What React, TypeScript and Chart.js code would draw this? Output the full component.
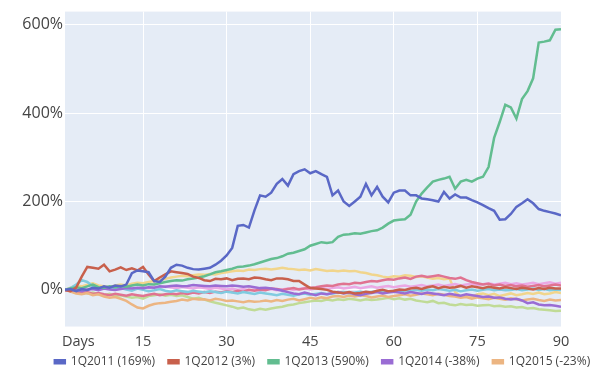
import React, { useEffect, useRef } from "react";
import { Chart, registerables } from "chart.js";

Chart.register(...registerables);

// Days 1..90
const DAYS: number[] = Array.from({ length: 90 }, (_, i) => i + 1);

const X_TICKS = [3.4, 15, 30, 45, 60, 75, 90];
const DAYS_TICK = 3.4;
const Y_TICKS = [0, 200, 400, 600];

const NAMES = [
  "1Q2011 (169%)",
  "1Q2012 (3%)",
  "1Q2013 (590%)",
  "1Q2014 (-38%)",
  "1Q2015 (-23%)",
  "1Q2016",
  "1Q2017",
  "1Q2018",
  "1Q2019",
  "1Q2020",
];

const COLORS = [
  "#5a68c6",
  "#c8604c",
  "#62bd90",
  "#9a6cd4",
  "#ecb582",
  "#80cbe0",
  "#e07391",
  "#c0db96",
  "#eba8e4",
  "#f1d58c",
];

const Q2011 = [
  0, 2, -3, 2, 0, 5, 3, 8, 5, 10,
  8, 12, 38, 44, 42, 40, 20, 18, 30, 50,
  57, 55, 50, 47, 46, 48, 50, 57, 66, 78,
  95, 145, 147, 141, 180, 214, 211, 220, 240, 251,
  236, 262, 269, 273, 264, 269, 262, 256, 214, 225,
  200, 190, 200, 211, 240, 214, 233, 211, 198, 220,
  225, 225, 214, 214, 207, 205, 203, 200, 222, 207,
  216, 209, 209, 203, 198, 192, 185, 179, 159, 160,
  172, 188, 196, 205, 196, 183, 179, 176, 173, 169,
];

const Q2012 = [
  0, -3, 5, 30, 52, 50, 48, 57, 42, 46,
  51, 45, 49, 44, 52, 35, 20, 28, 35, 42,
  40, 38, 36, 30, 27, 22, 20, 25, 24, 26,
  22, 25, 26, 24, 28, 27, 24, 22, 26, 26,
  24, 20, 20, 12, 4, 3, 2, 0, -4, -6,
  -7, -5, -8, -7, -4, -6, -2, 0, -3, -2,
  1, 0, 3, 5, 2, 6, 8, 4, 7, 5,
  6, 9, 5, 8, 6, 4, 7, 5, 3, 6,
  4, 2, 5, 3, 1, 4, 2, 5, 3, 3,
];

const Q2013 = [
  0, 3, 6, 4, 8, 12, 6, 5, 8, 6,
  9, 7, 10, 12, 10, 13, 12, 15, 18, 20,
  22, 21, 24, 26, 28, 31, 35, 40, 42, 45,
  48, 52, 53, 55, 58, 62, 66, 70, 72, 76,
  82, 84, 88, 92, 100, 104, 108, 106, 108, 120,
  125, 126, 128, 127, 130, 133, 135, 141, 150, 157,
  159, 160, 170, 200, 218, 232, 245, 249, 252, 256,
  229, 245, 249, 245, 252, 256, 278, 344, 380, 419,
  413, 388, 432, 450, 479, 560, 562, 565, 589, 590,
];

const Q2014 = [
  0, -2, 1, -3, 0, 2, -1, 3, 1, 0,
  2, 4, 3, 5, 4, 6, 5, 8, 7, 9,
  10, 8, 9, 11, 10, 9, 8, 10, 9, 8,
  10, 9, 7, 8, 6, 4, 5, 3, 1, -2,
  -5, -8, -10, -6, -9, -12, -8, -10, -7, -5,
  -8, -6, -10, -12, -9, -7, -5, -8, -6, -4,
  -6, -8, -5, -7, -9, -6, -8, -10, -12, -9,
  -11, -13, -10, -12, -14, -16, -15, -18, -17, -20,
  -22, -20, -24, -30, -28, -33, -35, -34, -36, -38,
];

const Q2015 = [
  0, -4, -8, -10, -7, -12, -10, -15, -18, -16,
  -20, -25, -33, -40, -42, -36, -32, -30, -29, -27,
  -25, -22, -24, -20, -22, -21, -24, -20, -22, -25,
  -24, -26, -28, -25, -27, -26, -24, -26, -23, -25,
  -22, -20, -24, -21, -18, -20, -17, -19, -15, -14,
  -16, -13, -15, -12, -14, -17, -15, -13, -16, -14,
  -12, -10, -13, -11, -8, -10, -12, -9, -11, -14,
  -15, -18, -16, -20, -17, -19, -21, -18, -20, -22,
  -19, -21, -24, -22, -20, -23, -25, -22, -24, -23,
];

const Q2016 = [
  0, 4, 12, 22, 18, 8, 5, 3, 6, 2,
  4, 1, -2, 3, 0, -3, -1, 2, -2, -4,
  -1, -3, -5, -2, -4, -6, -3, -5, -7, -4,
  -6, -8, -5, -7, -9, -6, -8, -10, -12, -9,
  -11, -13, -10, -8, -11, -9, -7, -10, -8, -6,
  -5, -8, -6, -4, -7, -5, -3, -6, -4, -2,
  -4, -1, -3, 0, -2, 1, -1, 2, 0, -2,
  0, -3, -1, 1, -2, 0, 2, -1, 1, -1,
  0, 2, -1, 1, 3, 0, 2, -1, 1, 0,
];

const Q2017 = [
  0, -3, -6, -8, -5, -9, -7, -10, -12, -9,
  -11, -13, -10, -12, -14, -11, -9, -12, -10, -8,
  -10, -7, -9, -6, -8, -5, -7, -4, -6, -3,
  -5, -2, -4, 0, -2, 1, -1, 3, 2, 0,
  2, 4, 1, 3, 5, 6, 8, 10, 9, 12,
  14, 13, 16, 15, 18, 20, 19, 22, 24, 23,
  26, 28, 25, 30, 32, 29, 31, 33, 30, 27,
  25, 28, 22, 18, 15, 12, 14, 10, 12, 9,
  11, 8, 10, 7, 9, 11, 8, 10, 12, 10,
];

const Q2018 = [
  0, -2, -5, -3, -8, -6, -10, -12, -9, -14,
  -12, -15, -18, -16, -20, -14, -12, -10, -13, -11,
  -14, -12, -16, -20, -18, -22, -26, -29, -32, -35,
  -38, -42, -40, -44, -46, -43, -45, -42, -40, -38,
  -35, -33, -30, -28, -26, -24, -25, -22, -24, -21,
  -23, -20, -22, -24, -21, -23, -22, -20, -18, -21,
  -19, -22, -20, -24, -26, -28, -25, -30, -29, -33,
  -35, -32, -34, -33, -36, -35, -34, -37, -36, -38,
  -37, -40, -39, -42, -41, -44, -45, -46, -48, -47,
];

const Q2019 = [
  0, 2, -1, 3, 1, 4, 2, 5, 3, 6,
  4, 2, 5, 3, 6, 4, 7, 5, 8, 6,
  4, 7, 5, 3, 6, 4, 2, 5, 3, 1,
  3, 0, 2, -1, 1, -2, 0, 2, -1, 1,
  3, 0, 2, 4, 1, 3, 5, 2, 4, 6,
  3, 5, 7, 4, 6, 8, 5, 7, 9, 6,
  8, 10, 7, 9, 11, 8, 10, 12, 9, 11,
  13, 10, 12, 14, 11, 13, 15, 12, 14, 16,
  13, 15, 12, 14, 16, 13, 15, 17, 14, 16,
];

const Q2020 = [
  0, 5, 10, 8, 12, 15, 10, 8, 6, 10,
  12, 10, 14, 16, 15, 18, 20, 22, 25, 28,
  30, 32, 31, 33, 35, 34, 36, 35, 38, 40,
  42, 44, 43, 46, 45, 47, 48, 46, 48, 50,
  48, 47, 45, 46, 44, 47, 45, 43, 44, 42,
  44, 42, 43, 40, 38, 35, 33, 30, 28, 31,
  30, 33, 32, 29, 31, 28, 25, 27, 24, 26,
  -5, -15, -12, -16, -10, -8, -12, -9, -14, -11,
  -8, -12, -10, -7, -9, -6, -10, -8, -5, -7,
];

const SERIES = [Q2011, Q2012, Q2013, Q2014, Q2015, Q2016, Q2017, Q2018, Q2019, Q2020];

const FONT = "'Open Sans', 'Noto Sans', sans-serif";
const TEXT = "#444444";
const LEGEND_GAP = "\u00a0\u00a0\u00a0";

const plotBg = {
  id: "plotBg",
  beforeDraw(chart: any) {
    const { ctx, chartArea } = chart;
    if (!chartArea) return;
    ctx.save();
    ctx.fillStyle = "#e5ecf6";
    ctx.fillRect(chartArea.left, chartArea.top, chartArea.right - chartArea.left, chartArea.bottom - chartArea.top);
    ctx.restore();
  },
};

export default function App() {
  const ref = useRef<HTMLCanvasElement | null>(null);

  useEffect(() => {
    if (!ref.current) return;
    const datasets = SERIES.map((vals, i) => ({
      label: NAMES[i],
      data: vals.map((v, j) => ({ x: DAYS[j], y: v })),
      borderColor: COLORS[i],
      backgroundColor: COLORS[i],
      borderWidth: 2.5,
      pointRadius: 0,
      tension: 0,
    }));

    const baseGen = (Chart as any).defaults.plugins.legend.labels.generateLabels;

    const chart = new Chart(ref.current, {
      type: "line",
      data: { datasets },
      plugins: [plotBg],
      options: {
        animation: false,
        responsive: true,
        maintainAspectRatio: false,
        layout: { padding: { left: 0, right: -45, top: 3.5, bottom: -10.75 } },
        plugins: {
          title: { display: false },
          tooltip: { enabled: false },
          legend: {
            display: true,
            position: "bottom",
            align: "center",
            labels: {
              boxWidth: 10,
              boxHeight: 3,
              padding: 4,
              color: TEXT,
              font: { family: FONT, size: 12 },
              filter: (item: any) => item.datasetIndex < 5,
              generateLabels: (c: any) =>
                baseGen(c).map((it: any, i: number) => ({
                  ...it,
                  text: i < 4 ? it.text + LEGEND_GAP : it.text,
                })),
            },
          },
        },
        scales: {
          x: {
            type: "linear",
            min: 1,
            max: 90,
            afterBuildTicks: (s: any) => {
              s.ticks = X_TICKS.map((v) => ({ value: v }));
            },
            afterFit: (s: any) => {
              s.height = 25.2;
            },
            ticks: {
              autoSkip: false,
              maxRotation: 0,
              padding: 7,
              color: TEXT,
              font: { family: FONT, size: 14.5 },
              callback: (v: any) => (v === DAYS_TICK ? "Days" : String(v)),
            },
            grid: {
              drawTicks: false,
              color: (ctx: any) => (ctx.tick && ctx.tick.value === DAYS_TICK ? "rgba(0,0,0,0)" : "#ffffff"),
              lineWidth: 1,
            },
            border: { display: false },
          },
          y: {
            type: "linear",
            min: -83,
            max: 630,
            afterBuildTicks: (s: any) => {
              s.ticks = Y_TICKS.map((v) => ({ value: v }));
            },
            afterFit: (s: any) => {
              s.width = 65;
            },
            ticks: {
              padding: 2,
              color: TEXT,
              font: { family: FONT, size: 16 },
              callback: (v: any) => `${v}%`,
            },
            grid: {
              drawTicks: false,
              color: "#ffffff",
              lineWidth: 1,
            },
            border: { display: false },
          },
          y2: {
            type: "linear",
            position: "right",
            display: true,
            min: 0,
            max: 1,
            afterFit: (s: any) => {
              s.width = 84;
            },
            ticks: { display: false },
            grid: { display: false, drawTicks: false },
            border: { display: false },
          },
        },
      },
    });
    return () => chart.destroy();
  }, []);

  return (
    <div style={{ position: "fixed", left: 0, top: 0, width: 600, height: 367, background: "#ffffff" }}>
      <canvas ref={ref} />
    </div>
  );
}
